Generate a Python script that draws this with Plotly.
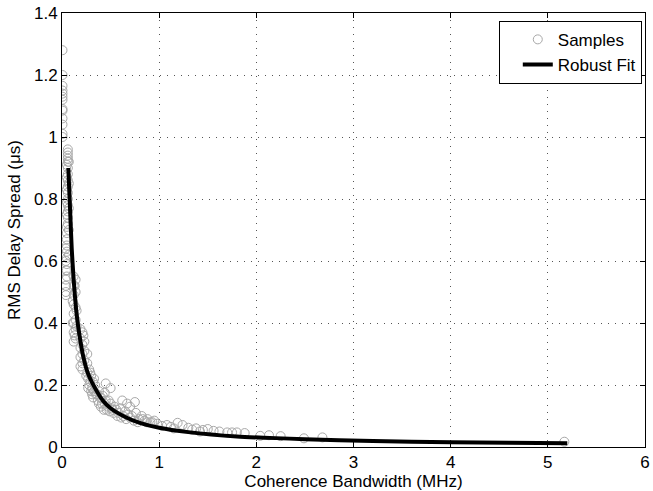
import plotly.graph_objects as go

# ---- Samples ----
samp_x = [
    # outliers on the axis
    0.005, 0.005, 0.005, 0.005, 0.005, 0.005, 0.005, 0.005, 0.005, 0.005, 0.005, 0.005, 0.005,
    # dense column near x~0.05
    0.06, 0.06, 0.06, 0.06, 0.06, 0.06, 0.06, 0.06, 0.06, 0.06, 0.06, 0.06, 0.06, 0.06, 0.06,
    0.05, 0.05, 0.05, 0.05, 0.05, 0.05, 0.05, 0.05, 0.05, 0.05, 0.05, 0.05, 0.05, 0.05,
    0.04, 0.04, 0.04, 0.04, 0.04, 0.04, 0.04, 0.07, 0.07, 0.07, 0.07, 0.07,
    # second block x~0.12
    0.12, 0.12, 0.12, 0.12, 0.12, 0.12, 0.12, 0.12, 0.14, 0.14, 0.14, 0.14, 0.14, 0.14,
    0.11, 0.11, 0.13, 0.13, 0.15, 0.15,
    # third block x~0.2
    0.19, 0.19, 0.19, 0.19, 0.19, 0.21, 0.21, 0.21, 0.21, 0.21, 0.23, 0.23, 0.23, 0.22,
    # x 0.25-0.35
    0.26, 0.26, 0.26, 0.27, 0.28, 0.29, 0.30, 0.31, 0.32, 0.33, 0.34, 0.35, 0.28, 0.30, 0.32,
    0.25, 0.27, 0.29, 0.31, 0.33,
    # x 0.35-0.55
    0.36, 0.37, 0.38, 0.40, 0.41, 0.42, 0.44, 0.45, 0.47, 0.50, 0.52, 0.54, 0.38, 0.40, 0.43,
    0.46, 0.48, 0.51, 0.53, 0.39, 0.44, 0.49,
    # outliers
    0.45, 0.50, 0.62, 0.67, 0.75, 0.70,
    # x 0.55-1.0
    0.56, 0.58, 0.60, 0.63, 0.65, 0.68, 0.72, 0.76, 0.79, 0.82, 0.85, 0.88, 0.91, 0.95, 0.98,
    0.57, 0.61, 0.66, 0.70, 0.74, 0.78, 0.83, 0.87, 0.93,
    # x 1-2
    1.08, 1.12, 1.19, 1.24, 1.30, 1.38, 1.45, 1.50, 1.56, 1.62, 1.70, 1.75, 1.80, 1.88, 1.03,
    1.15, 1.34, 1.42,
    # x 2-2.7
    2.04, 2.13, 2.25, 2.49, 2.68,
    # far point
    5.17,
]
samp_y = [
    1.28, 1.20, 1.165, 1.15, 1.14, 1.13, 1.12, 1.09, 1.085, 1.06, 1.04, 1.01, 1.00,
    0.96, 0.95, 0.94, 0.93, 0.92, 0.90, 0.88, 0.86, 0.84, 0.82, 0.80, 0.78, 0.76, 0.74, 0.72,
    0.91, 0.87, 0.83, 0.79, 0.75, 0.71, 0.69, 0.67, 0.65, 0.63, 0.61, 0.59, 0.57, 0.55,
    0.64, 0.60, 0.57, 0.54, 0.52, 0.50, 0.49, 0.92, 0.85, 0.77, 0.70, 0.62,
    0.55, 0.52, 0.49, 0.46, 0.43, 0.40, 0.37, 0.34, 0.54, 0.50, 0.45, 0.41, 0.38, 0.35,
    0.47, 0.40, 0.52, 0.36, 0.44, 0.39,
    0.38, 0.35, 0.32, 0.29, 0.26, 0.37, 0.33, 0.30, 0.27, 0.25, 0.34, 0.31, 0.28, 0.36,
    0.30, 0.27, 0.24, 0.22, 0.25, 0.21, 0.23, 0.19, 0.21, 0.18, 0.20, 0.17, 0.20, 0.18, 0.16,
    0.23, 0.19, 0.24, 0.17, 0.22,
    0.17, 0.15, 0.18, 0.16, 0.14, 0.165, 0.14, 0.15, 0.13, 0.14, 0.12, 0.13, 0.14, 0.13, 0.12,
    0.12, 0.15, 0.125, 0.11, 0.16, 0.175, 0.115,
    0.205, 0.19, 0.15, 0.14, 0.145, 0.13,
    0.12, 0.11, 0.125, 0.10, 0.115, 0.105, 0.10, 0.11, 0.09, 0.10, 0.085, 0.09, 0.08, 0.085, 0.075,
    0.10, 0.095, 0.09, 0.095, 0.085, 0.08, 0.09, 0.08, 0.08,
    0.071, 0.065, 0.078, 0.071, 0.062, 0.060, 0.055, 0.058, 0.052, 0.050, 0.047, 0.047, 0.047, 0.045, 0.068,
    0.060, 0.056, 0.050,
    0.036, 0.038, 0.035, 0.028, 0.031,
    0.017,
]

# ---- Robust fit curve ----
fit_x = [0.065, 0.08, 0.1, 0.12, 0.15, 0.18, 0.22, 0.27, 0.34, 0.42, 0.5, 0.65, 0.8,
         1.0, 1.3, 1.8, 2.5, 3.2, 4.0, 4.6, 5.2]
fit_y = [0.90, 0.79, 0.64, 0.54, 0.43, 0.36, 0.29, 0.235, 0.19, 0.15, 0.125, 0.097, 0.078,
         0.062, 0.048, 0.034, 0.025, 0.019, 0.015, 0.0135, 0.012]

x_ticks = [0, 1, 2, 3, 4, 5, 6]
y_ticks = [0, 0.2, 0.4, 0.6, 0.8, 1, 1.2, 1.4]
y_labels = ["0", "0.2", "0.4", "0.6", "0.8", "1", "1.2", "1.4"]

font = "Liberation Sans, Arial, Helvetica, sans-serif"
FS = 17

fig = go.Figure()
fig.add_trace(go.Scatter(
    x=samp_x, y=samp_y, mode="markers", name="Samples",
    marker=dict(symbol="circle-open", size=9, color="#a8a8a8", line=dict(width=1, color="#a8a8a8")),
))
fig.add_trace(go.Scatter(
    x=fit_x, y=fit_y, mode="lines", name="Robust Fit",
    line=dict(color="black", width=4, shape="spline", smoothing=0.6),
))

axis_common = dict(
    showline=True, linecolor="black", linewidth=1, mirror="ticks",
    ticks="inside", ticklen=5, tickcolor="black",
    showgrid=True, gridcolor="#555555", griddash="1px,6px", gridwidth=1,
    zeroline=False, tickfont=dict(family=font, size=FS, color="black"),
    ticklabeloverflow="allow",
)

fig.update_layout(
    width=653, height=491,
    margin=dict(l=62, r=3, t=13, b=44),
    paper_bgcolor="white", plot_bgcolor="white",
    font=dict(family=font, size=FS, color="black"),
    showlegend=True,
    legend=dict(
        x=0.9945, y=0.982, xanchor="right", yanchor="top",
        bgcolor="white", bordercolor="black", borderwidth=1,
        font=dict(family=font, size=FS, color="black"),
        tracegroupgap=0, indentation=18,
    ),
    xaxis=dict(
        range=[0, 6], tickvals=x_ticks,
        title=dict(text="Coherence Bandwidth (MHz)", standoff=0, font=dict(family=font, size=FS)),
        **axis_common,
    ),
    yaxis=dict(
        range=[0, 1.4], tickvals=y_ticks, ticktext=y_labels,
        title=dict(text="RMS Delay Spread (μs)", standoff=9, font=dict(family=font, size=FS)),
        **axis_common,
    ),
)

fig.write_html("out.html")
